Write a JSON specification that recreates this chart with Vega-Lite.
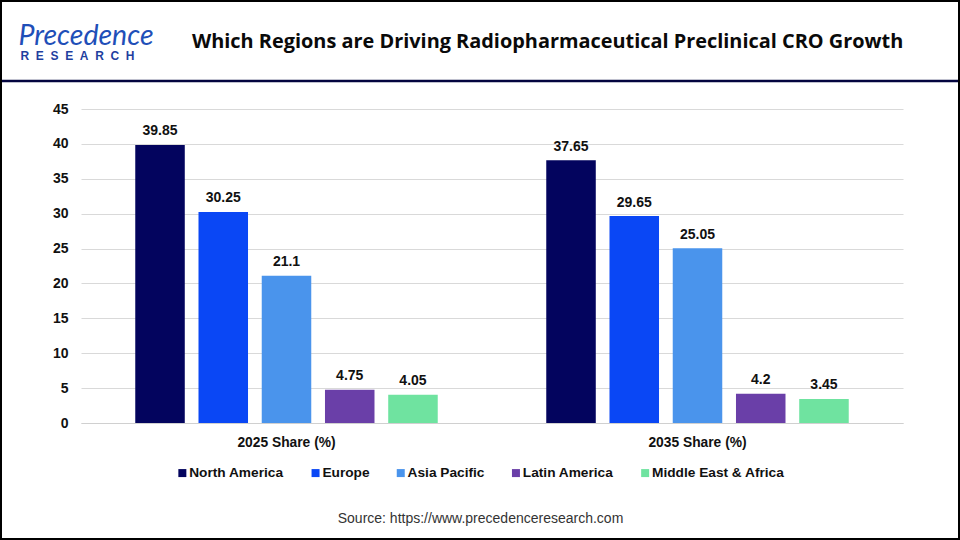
{"$schema":"https://vega.github.io/schema/vega-lite/v6.json","width":822,"height":314,"autosize":{"type":"none"},"padding":{"left":81,"top":109,"right":57,"bottom":117},"background":"#ffffff","title":{"text":"Which Regions are Driving Radiopharmaceutical Preclinical CRO Growth","anchor":"start","frame":"group","dx":111,"dy":52,"offset":0,"font":"Open Sans","fontWeight":"bold","fontSize":19.9,"color":"#0a0a0a"},"config":{"view":{"stroke":null},"font":"Liberation Sans"},"resolve":{"axis":{"y":"independent"}},"data":{"values":[{"period":"2025 Share (%)","region":"North America","share":39.85},{"period":"2025 Share (%)","region":"Europe","share":30.25},{"period":"2025 Share (%)","region":"Asia Pacific","share":21.1},{"period":"2025 Share (%)","region":"Latin America","share":4.75},{"period":"2025 Share (%)","region":"Middle East & Africa","share":4.05},{"period":"2035 Share (%)","region":"North America","share":37.65},{"period":"2035 Share (%)","region":"Europe","share":29.65},{"period":"2035 Share (%)","region":"Asia Pacific","share":25.05},{"period":"2035 Share (%)","region":"Latin America","share":4.2},{"period":"2035 Share (%)","region":"Middle East & Africa","share":3.45}]},"layer":[{"mark":{"type":"bar"},"encoding":{"x":{"field":"period","type":"nominal","scale":{"paddingInner":0,"paddingOuter":0},"axis":{"title":"Source: https://www.precedenceresearch.com","titleFont":"Liberation Sans","titleFontWeight":"normal","titleFontSize":14,"titleColor":"#333333","titleX":399,"titleY":88,"labelAngle":0,"labelFontSize":13.8,"labelFontWeight":"bold","labelColor":"#111111","labelPadding":12,"ticks":false,"domainColor":"#d0d0d0","labelFont":"Liberation Sans"}},"xOffset":{"field":"region","type":"nominal","sort":["North America","Europe","Asia Pacific","Latin America","Middle East & Africa"],"scale":{"paddingInner":0.217,"paddingOuter":0.858}},"y":{"field":"share","type":"quantitative","scale":{"domain":[0,45]},"axis":{"values":[0,5,10,15,20,25,30,35,40,45],"title":"Precedence","titleAngle":0,"titleAlign":"left","titleBaseline":"alphabetic","titleX":-63,"titleY":-65,"titleFont":"Lato","titleFontStyle":"italic","titleFontWeight":"normal","titleFontSize":28.5,"titleColor":"#1f4fb8","grid":true,"gridColor":"#d9d9d9","ticks":false,"domain":false,"labelFontSize":14,"labelFontWeight":"bold","labelColor":"#111111","labelPadding":13}},"color":{"field":"region","type":"nominal","sort":["North America","Europe","Asia Pacific","Latin America","Middle East & Africa"],"scale":{"domain":["North America","Europe","Asia Pacific","Latin America","Middle East & Africa"],"range":["#03045e","#0a47f5","#4a94ec","#6a3fa8","#6fe3a0"]},"legend":{"orient":"none","legendX":94.5,"legendY":357,"direction":"horizontal","columns":5,"title":null,"symbolType":"square","symbolSize":64,"symbolStrokeWidth":0,"labelFontSize":13.7,"labelFontWeight":"bold","labelColor":"#111111","labelOffset":0,"columnPadding":24.2,"labelLimit":200}}}},{"mark":{"type":"text","fontSize":14,"fontWeight":"bold","color":"#111111","dy":-13.5},"encoding":{"x":{"field":"period","type":"nominal"},"xOffset":{"field":"region","type":"nominal","sort":["North America","Europe","Asia Pacific","Latin America","Middle East & Africa"]},"y":{"field":"share","type":"quantitative","axis":null},"text":{"field":"share","type":"quantitative","format":".4~f"}}},{"data":{"values":[{"level":49}]},"mark":{"type":"rule","stroke":"#03043f","strokeWidth":2.5,"clip":false},"encoding":{"x":{"value":-80},"x2":{"value":879},"y":{"field":"level","type":"quantitative","axis":{"orient":"right","labels":false,"ticks":false,"domain":false,"grid":false,"title":"R\u00a0\u00a0E\u00a0\u00a0S\u00a0\u00a0E\u00a0\u00a0A\u00a0\u00a0R\u00a0\u00a0C\u00a0\u00a0H","titleAngle":0,"titleAlign":"left","titleBaseline":"alphabetic","titleX":-883,"titleY":-50,"titleFont":"Liberation Sans","titleFontWeight":"bold","titleFontSize":12,"titleColor":"#1f3f9f"}}}},{"data":{"values":[{"frame":"border"}]},"mark":{"type":"rect","fillOpacity":0,"stroke":"#000000","strokeWidth":2,"clip":false},"encoding":{"x":{"value":-80},"x2":{"value":878},"y":{"value":-108},"y2":{"value":430}}}]}
